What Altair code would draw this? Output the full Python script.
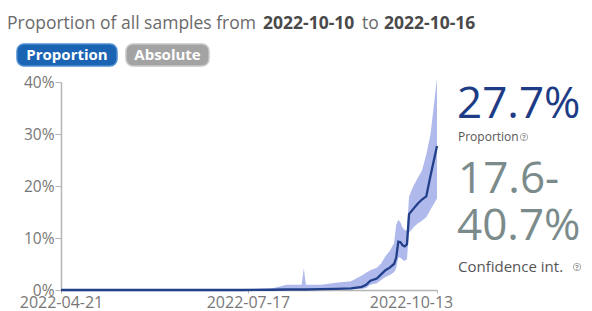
import altair as alt
import pandas as pd

# ---- data ----
dates = ["2022-04-21", "2022-05-05", "2022-05-19", "2022-06-02", "2022-06-16", "2022-06-30",
         "2022-07-14", "2022-07-28", "2022-08-04", "2022-08-11", "2022-08-12", "2022-08-13",
         "2022-08-20", "2022-08-27", "2022-09-03", "2022-09-08", "2022-09-10", "2022-09-12",
         "2022-09-15", "2022-09-17", "2022-09-19", "2022-09-21", "2022-09-23", "2022-09-24",
         "2022-09-25", "2022-09-26", "2022-09-27", "2022-09-28", "2022-09-29", "2022-09-30",
         "2022-10-02", "2022-10-04", "2022-10-06", "2022-10-08", "2022-10-10", "2022-10-13"]
proportion = [0.0, 0.0, 0.0, 0.0, 0.0, 0.0,
              0.0, 0.0005, 0.001, 0.001, 0.001, 0.001,
              0.0015, 0.002, 0.003, 0.006, 0.010, 0.018,
              0.022, 0.030, 0.038, 0.043, 0.050, 0.062,
              0.093, 0.092, 0.086, 0.084, 0.088, 0.146,
              0.156, 0.166, 0.174, 0.180, 0.220, 0.277]
ci_low = [0.0, 0.0, 0.0, 0.0, 0.0, 0.0,
          0.0, 0.0, 0.0, 0.0, 0.0, 0.0,
          0.0, 0.0005, 0.001, 0.002, 0.004, 0.010,
          0.013, 0.019, 0.025, 0.029, 0.034, 0.042,
          0.063, 0.062, 0.058, 0.056, 0.059, 0.110,
          0.120, 0.128, 0.133, 0.140, 0.155, 0.176]
ci_high = [0.001, 0.001, 0.001, 0.001, 0.002, 0.002,
           0.002, 0.003, 0.010, 0.010, 0.042, 0.010,
           0.010, 0.014, 0.017, 0.028, 0.033, 0.038,
           0.043, 0.051, 0.065, 0.075, 0.090, 0.125,
           0.135, 0.130, 0.120, 0.115, 0.115, 0.180,
           0.200, 0.215, 0.230, 0.260, 0.300, 0.407]
tick_dates = [(2022, 4, 21), (2022, 7, 17), (2022, 10, 13)]
y_ticks = [0, 0.1, 0.2, 0.3, 0.4]

FONT = "Open Sans"

df = pd.DataFrame({"date": dates, "proportion": proportion, "low": ci_low, "high": ci_high})

xscale = alt.Scale(type="utc",
                   domain=[alt.DateTime(year=2022, month=4, date=21, utc=True),
                           alt.DateTime(year=2022, month=10, date=13, utc=True)])
xaxis = alt.Axis(title=None, format="%Y-%m-%d",
                 values=[alt.DateTime(year=y, month=m, date=d, utc=True) for y, m, d in tick_dates],
                 tickSize=3, labelFontSize=16, labelPadding=1, labelFlush=False,
                 labelOffset={"condition": {"test": "datum.value > 1663000000000", "value": -26},
                              "value": 0})
yscale = alt.Scale(domain=[0, 0.4], nice=False)
yaxis = alt.Axis(title=None, format=".0%", values=y_ticks, tickSize=6, labelFontSize=15.5,
                 labelPadding=1)

base = alt.Chart(df)
band = base.mark_area(color="#a6b1e9", opacity=0.9, clip=False).encode(
    x=alt.X("date:T", scale=xscale, axis=xaxis),
    y=alt.Y("low:Q", scale=yscale, axis=yaxis),
    y2="high:Q",
)
line = base.mark_line(color="#22408a", strokeWidth=2.3).encode(
    x=alt.X("date:T", scale=xscale),
    y=alt.Y("proportion:Q", scale=yscale),
)

# ---- header / side texts ----
def txt(text, x, y, size, color, weight="normal", align="left", baseline="alphabetic"):
    return alt.Chart(pd.DataFrame({"t": [text]})).mark_text(
        font=FONT, fontSize=size, color=color, fontWeight=weight, align=align, baseline=baseline
    ).encode(text="t:N", x=alt.value(x), y=alt.value(y))

def pill(x1, x2, y1, y2, fill, stroke):
    return alt.Chart(pd.DataFrame({"a": [0]})).mark_rect(
        fill=fill, stroke=stroke, strokeWidth=1.5, cornerRadius=7
    ).encode(x=alt.value(x1), x2=alt.value(x2), y=alt.value(y1), y2=alt.value(y2))

def help_icon(x, y):
    c = alt.Chart(pd.DataFrame({"a": [0]})).mark_point(
        shape="circle", filled=False, size=55, stroke="#888", strokeWidth=1
    ).encode(x=alt.value(x), y=alt.value(y))
    q = txt("?", x, y + 0.5, 7, "#888", weight="bold", align="center", baseline="middle")
    return c + q

title_parts = (
    txt("Proportion of all samples from", -54, -53, 17.5, "#6a6a6a")
    + txt("2022-10-10", 202, -53, 17.5, "#4a4a4a", weight="bold")
    + txt("to", 301, -53, 17.5, "#6a6a6a")
    + txt("2022-10-16", 323, -53, 17.5, "#4a4a4a", weight="bold")
)
buttons = (
    pill(-44, 56, -38, -16, "#1b63b3", "#4f8ed0")
    + txt("Proportion", 6, -27, 15, "white", weight="bold", align="center", baseline="middle")
    + pill(65, 148, -38, -16, "#a3a3a3", "#c8c8c8")
    + txt("Absolute", 106.5, -27, 15, "white", weight="bold", align="center", baseline="middle")
)
side = (
    txt("27.7%", 396, 36, 44, "#1e3b85")
    + txt("Proportion", 397, 59, 12, "#555555")
    + help_icon(463, 55)
    + txt("17.6-", 397, 111, 44, "#7b8b8b")
    + txt("40.7%", 396, 158, 44, "#7b8b8b")
    + txt("Confidence int.", 397, 190, 15, "#555555")
    + help_icon(516, 185)
)

chart = alt.layer(band, line, title_parts, buttons, side).properties(
    width=376, height=208,
    autosize=alt.AutoSizeParams(type="none"),
    padding={"left": 53, "top": 74, "right": 147, "bottom": 22},
).configure_axis(
    grid=False, domainColor="#b5b5b5", tickColor="#b5b5b5", labelColor="#777777",
    labelFont=FONT, domainWidth=1.5,
).configure_view(stroke=None)

chart.save("out.html", embed_options={"renderer": "svg", "actions": False})
